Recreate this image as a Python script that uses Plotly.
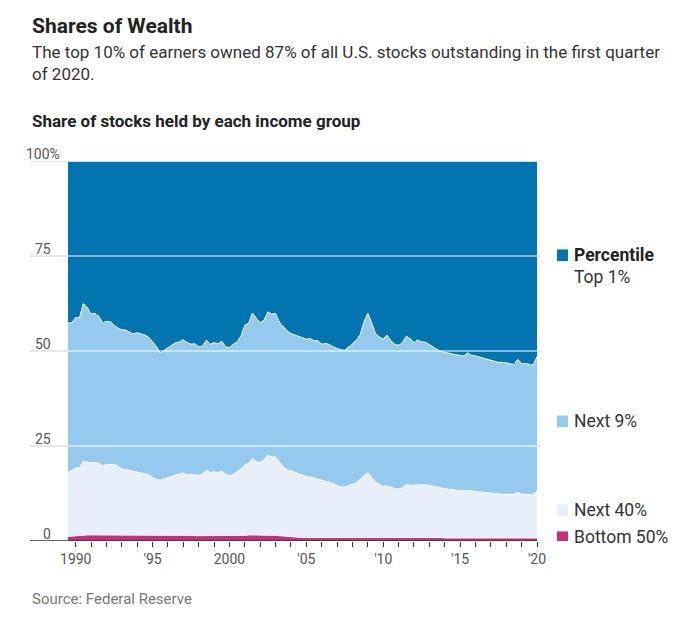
import numpy as np
import pandas as pd
import plotly.graph_objects as go

# Quarterly, 1989 Q3 .. 2020 Q1 (Fed distributional financial accounts)
quarters = pd.date_range('1989-07-01', '2020-01-01', freq='QS')

# cumulative share of stocks held below each percentile cut
below_99 = [
    57.3, 57.5,
    58.8, 58.8, 62.5, 61.5,  59.7, 59.9, 59.2, 57.4,  57.8, 57.7, 56.8, 56.0,
    55.6, 55.5, 55.0, 54.5,  54.8, 54.5, 54.2, 53.6,  52.4, 51.2, 49.5, 50.2,
    50.9, 51.5, 52.2, 52.4,  53.0, 52.2, 51.8, 51.9,  51.1, 51.3, 52.9, 51.8,
    52.2, 51.9, 52.6, 51.1,  50.9, 51.8, 52.4, 54.0,  56.8, 57.3, 60.0, 58.6,
    57.5, 58.1, 60.3, 59.7,  59.9, 57.6, 56.4, 55.3,  54.6, 54.2, 53.8, 53.3,
    53.1, 53.3, 52.7, 52.7,  51.8, 52.0, 51.7, 51.1,  50.6, 50.3, 50.2, 51.0,
    51.9, 52.9, 54.3, 57.7,  60.0, 57.3, 54.6, 53.7,  53.1, 54.2, 52.7, 51.8,
    51.5, 52.2, 53.9, 53.3,  52.2, 52.9, 52.4, 52.3,  51.6, 51.0, 50.4, 49.9,
    49.6, 49.4, 49.2, 49.0,  48.8, 48.7, 49.5, 48.9,  48.7, 48.4, 48.2, 47.9,
    47.5, 47.2, 47.0, 47.0,  46.9, 46.6, 46.5, 47.8,  46.7, 46.7, 46.5, 46.3,
    48.5,
]
below_90 = [
    18.0, 18.6,
    19.2, 19.3, 21.0, 20.7,  20.6, 20.6, 20.5, 19.8,  20.1, 20.1, 20.1, 19.7,
    18.9, 18.8, 18.6, 18.3,  18.1, 18.0, 17.8, 17.4,  16.7, 16.2, 16.0, 16.3,
    16.7, 17.0, 17.4, 17.7,  17.9, 17.4, 17.6, 17.4,  17.3, 17.6, 18.6, 18.0,
    18.2, 18.0, 18.4, 17.6,  17.2, 17.5, 18.2, 19.0,  20.0, 20.5, 21.7, 20.8,
    20.7, 21.4, 22.6, 22.1,  22.1, 20.8, 19.5, 18.8,  18.4, 18.0, 17.8, 17.3,
    17.0, 16.9, 16.6, 16.1,  15.9, 15.7, 15.5, 15.1,  14.7, 14.2, 14.2, 14.6,
    14.9, 15.3, 16.2, 17.2,  17.9, 16.7, 15.5, 14.9,  14.4, 14.5, 14.1, 13.8,
    13.7, 14.0, 14.9, 14.6,  14.7, 14.8, 14.8, 14.8,  14.6, 14.5, 14.4, 14.0,
    13.8, 13.6, 13.5, 13.3,  13.2, 13.1, 13.3, 13.1,  13.0, 12.9, 12.8, 12.7,
    12.6, 12.5, 12.3, 12.3,  12.3, 12.3, 12.3, 12.8,  12.3, 12.3, 12.2, 12.3,
    13.1,
]
bottom_50 = [
    1.2, 1.3,
    1.4, 1.5, 1.6, 1.6,  1.6, 1.6, 1.6, 1.6,  1.6, 1.6, 1.6, 1.6,
    1.6, 1.6, 1.6, 1.6,  1.6, 1.6, 1.6, 1.6,  1.6, 1.5, 1.5, 1.5,
    1.5, 1.5, 1.5, 1.5,  1.5, 1.5, 1.5, 1.4,  1.4, 1.4, 1.4, 1.4,
    1.4, 1.4, 1.4, 1.4,  1.4, 1.4, 1.4, 1.5,  1.5, 1.6, 1.6, 1.6,
    1.6, 1.6, 1.6, 1.6,  1.5, 1.4, 1.3, 1.2,  1.1, 1.0, 0.9, 0.9,
    0.9, 0.9, 0.9, 0.9,  0.9, 0.9, 0.9, 0.9,  0.9, 0.9, 0.9, 1.0,
    1.0, 1.0, 1.0, 1.0,  1.0, 0.9, 0.9, 0.9,  0.9, 0.9, 0.9, 0.9,
    0.9, 0.9, 0.9, 0.9,  0.9, 0.9, 0.9, 0.9,  0.9, 0.9, 0.9, 0.9,
    0.8, 0.8, 0.8, 0.8,  0.8, 0.8, 0.8, 0.8,  0.8, 0.8, 0.8, 0.8,
    0.8, 0.8, 0.8, 0.8,  0.8, 0.8, 0.8, 0.8,  0.8, 0.8, 0.8, 0.8,
    0.8,
]

groups = ['Bottom 50%', 'Next 40%', 'Next 9%', 'Top 1%']
colors = ['#c4307a', '#e8eefa', '#95c9ee', '#0274b0']

tick_years = list(range(1990, 2021))
tick_text = ['1990', "'95", '2000', "'05", "'10", "'15", "'20"]
y_ticks = [0, 25, 50, 75, 100]

# turn the cut lines into the share each group holds
b50 = np.array(bottom_50)
b90 = np.array(below_90)
b99 = np.array(below_99)
shares = [b50, b90 - b50, b99 - b90, 100 - b99]

FONT = 'Roboto'
PW = 469      # plot width, px
PH = 380      # plot height, px

fig = go.Figure()
for name, col, s in zip(groups, colors, shares):
    fig.add_trace(go.Scatter(
        x=quarters, y=s, name=name, mode='lines', stackgroup='one',
        fillcolor=col, line=dict(color='white', width=1),
        hovertemplate='%{x|%Y Q%q}: %{y:.1f}%<extra>' + name + '</extra>'))

labels = {}
for i, yr in enumerate(range(1990, 2021, 5)):
    labels[yr] = tick_text[i]

fig.update_xaxes(
    range=[quarters[0], quarters[-1]],
    tickvals=[pd.Timestamp(f'{y}-01-01') for y in tick_years],
    ticktext=[labels.get(y, '') for y in tick_years],
    ticks='outside', ticklen=5, tickwidth=1, tickcolor='#333',
    showgrid=False, zeroline=False, showline=False,
    tickfont=dict(family=FONT, size=14, color='#555'))
fig.update_yaxes(range=[0, 100], visible=False, fixedrange=True)

shapes = []
left = -38 / PW
right_stub = 1 + 4 / PW
for v in y_ticks[1:]:
    shapes.append(dict(type='line', xref='paper', yref='y', x0=left, x1=0,
                       y0=v, y1=v, line=dict(color='#d0d0d0', width=1)))
    shapes.append(dict(type='line', xref='paper', yref='y', x0=0, x1=1,
                       y0=v, y1=v, line=dict(color='white', width=1.2),
                       layer='above'))
    shapes.append(dict(type='line', xref='paper', yref='y', x0=1, x1=right_stub,
                       y0=v, y1=v, line=dict(color='#d0d0d0', width=1)))
shapes.append(dict(type='line', xref='paper', yref='y', x0=left, x1=1,
                   y0=0, y1=0, line=dict(color='#333', width=1.5),
                   layer='above'))

annotations = []
for v in y_ticks:
    txt = '100%' if v == 100 else str(v)
    annotations.append(dict(
        xref='paper', yref='y', x=-6 / PW if v == 100 else -15 / PW,
        y=v, text=txt, showarrow=False, xanchor='right', yanchor='bottom',
        yshift=-3, font=dict(family=FONT, size=14, color='#555')))

# legend placed beside the bands
leg_x = 1 + 20 / PW
txt_x = 1 + 35 / PW
legend_rows = [('Percentile', 75.2, colors[3], True),
               ('Top 1%', 69.4, None, False),
               ('Next 9%', 31.5, colors[2], False),
               ('Next 40%', 8.1, colors[1], False),
               ('Bottom 50%', 1.0, colors[0], False)]
for text, yv, col, bold in legend_rows:
    annotations.append(dict(
        xref='paper', yref='y', x=txt_x, y=yv, xanchor='left', yanchor='middle',
        text=f'<b>{text}</b>' if bold else text, showarrow=False,
        font=dict(family=FONT, size=17.5, color='#222' if bold else '#333')))
    if col:
        shapes.append(dict(type='rect', xref='paper', yref='y',
                           x0=leg_x, x1=leg_x + 11 / PW,
                           y0=yv - 5.8 / 3.797, y1=yv + 5.8 / 3.797,
                           fillcolor=col, line=dict(width=0)))

annotations += [
    dict(xref='paper', yref='paper', x=left, y=1 + (161 - 26) / PH,
         xanchor='left', yanchor='middle', showarrow=False,
         text='<b>Shares of Wealth</b>',
         font=dict(family=FONT, size=21, color='#222')),
    dict(xref='paper', yref='paper', x=left, y=1 + (161 - 63) / PH,
         xanchor='left', yanchor='middle', showarrow=False, align='left',
         text='The top 10% of earners owned 87% of all U.S. stocks outstanding in the first quarter<br>of 2020.',
         font=dict(family=FONT, size=17, color='#333')),
    dict(xref='paper', yref='paper', x=left, y=1 + (161 - 121) / PH,
         xanchor='left', yanchor='middle', showarrow=False,
         text='<b>Share of stocks held by each income group</b>',
         font=dict(family=FONT, size=17, color='#222')),
    dict(xref='paper', yref='paper', x=left, y=-(599 - 541) / PH,
         xanchor='left', yanchor='middle', showarrow=False,
         text='Source: Federal Reserve',
         font=dict(family=FONT, size=15, color='#777')),
]

# the page adds an 8px body margin, so the figure is pulled up and left by 8px
fig.update_layout(
    width=680, height=628,
    margin=dict(l=60, r=151, t=153, b=95, pad=0),
    paper_bgcolor='white', plot_bgcolor='white',
    showlegend=False, shapes=shapes, annotations=annotations,
    font=dict(family=FONT))

fig.write_html('out.html')
